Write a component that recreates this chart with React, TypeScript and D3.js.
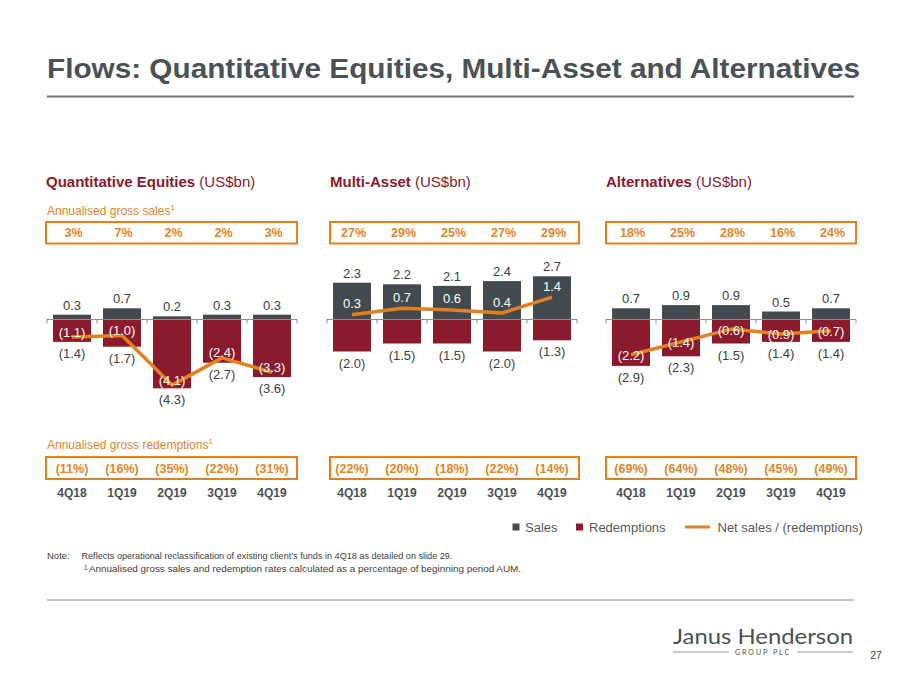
import React from "react";
import * as d3 from "d3";

const quarters = ["4Q18", "1Q19", "2Q19", "3Q19", "4Q19"];

const qeSales = [0.3, 0.7, 0.2, 0.3, 0.3];
const qeRedemptions = [-1.4, -1.7, -4.3, -2.7, -3.6];
const qeNet = [-1.1, -1.0, -4.1, -2.4, -3.3];
const qeSalesRate = ["3%", "7%", "2%", "2%", "3%"];
const qeRedRate = ["(11%)", "(16%)", "(35%)", "(22%)", "(31%)"];

const maSales = [2.3, 2.2, 2.1, 2.4, 2.7];
const maRedemptions = [-2.0, -1.5, -1.5, -2.0, -1.3];
const maNet = [0.3, 0.7, 0.6, 0.4, 1.4];
const maSalesRate = ["27%", "29%", "25%", "27%", "29%"];
const maRedRate = ["(22%)", "(20%)", "(18%)", "(22%)", "(14%)"];

const altSales = [0.7, 0.9, 0.9, 0.5, 0.7];
const altRedemptions = [-2.9, -2.3, -1.5, -1.4, -1.4];
const altNet = [-2.2, -1.4, -0.6, -0.9, -0.7];
const altSalesRate = ["18%", "25%", "28%", "16%", "24%"];
const altRedRate = ["(69%)", "(64%)", "(48%)", "(45%)", "(49%)"];

const C_DARK = "#434b51";
const C_RED = "#8a1a2c";
const C_ORANGE = "#e5801e";
const C_ORANGE_TXT = "#e4852a";
const C_TITLE = "#4a5258";
const C_LABEL = "#404040";
const FONT = "'Liberation Sans', Arial, sans-serif";

const fmt = (v: number) => (v < 0 ? `(${Math.abs(v).toFixed(1)})` : v.toFixed(1));

const panels = [
  {
    title: "Quantitative Equities",
    sales: qeSales,
    red: qeRedemptions,
    net: qeNet,
    salesRate: qeSalesRate,
    redRate: qeRedRate,
    axis: [47, 297],
    box: [46, 297],
    netOffset: -5,
  },
  {
    title: "Multi-Asset",
    sales: maSales,
    red: maRedemptions,
    net: maNet,
    salesRate: maSalesRate,
    redRate: maRedRate,
    axis: [327, 577],
    box: [330, 579],
    netOffset: -11,
  },
  {
    title: "Alternatives",
    sales: altSales,
    red: altRedemptions,
    net: altNet,
    salesRate: altSalesRate,
    redRate: altRedRate,
    axis: [606, 856],
    box: [606, 856],
    netOffset: 1,
  },
];

const y = d3.scaleLinear().domain([0, 1]).range([319.5, 303.5]);

function Panel({ p }: { p: (typeof panels)[number] }) {
  const x = d3
    .scaleBand<string>()
    .domain(quarters)
    .range(p.axis as [number, number])
    .paddingInner(0.24)
    .paddingOuter(0.12);
  const bw = x.bandwidth();
  const cx = (q: string) => (x(q) as number) + bw / 2;
  const line = d3
    .line<number>()
    .x((_, i) => cx(quarters[i]))
    .y((d) => y(d));
  const step = x.step();
  const ticks = d3.range(quarters.length + 1).map((i) => p.axis[0] + i * step);
  return (
    <g>
      <text x={p.box[0]} y={186.5} fontFamily={FONT} fontSize={15} fill={C_RED}>
        <tspan fontWeight="bold">{p.title}</tspan>
        <tspan> (US$bn)</tspan>
      </text>
      <rect x={p.box[0]} y={222} width={p.box[1] - p.box[0]} height={21.5} fill="none" stroke={C_ORANGE} strokeWidth={2} />
      {p.salesRate.map((t, i) => (
        <text key={"sr" + i} x={cx(quarters[i]) + 1.5} y={237} textAnchor="middle" fontFamily={FONT} fontSize={12.5} fontWeight="bold" fill={C_ORANGE_TXT}>
          {t}
        </text>
      ))}
      <rect x={p.box[0]} y={457} width={p.box[1] - p.box[0]} height={22} fill="none" stroke={C_ORANGE} strokeWidth={2} />
      {p.redRate.map((t, i) => (
        <text key={"rr" + i} x={cx(quarters[i])} y={472.5} textAnchor="middle" fontFamily={FONT} fontSize={12.5} fontWeight="bold" fill={C_ORANGE_TXT}>
          {t}
        </text>
      ))}
      {quarters.map((q) => (
        <text key={"q" + q} x={cx(q)} y={497} textAnchor="middle" fontFamily={FONT} fontSize={12} fontWeight="bold" fill={C_TITLE}>
          {q}
        </text>
      ))}
      {quarters.map((q, i) => (
        <g key={"b" + q}>
          <rect x={x(q)} y={y(p.sales[i])} width={bw} height={y(0) - y(p.sales[i])} fill={C_DARK} />
          <rect x={x(q)} y={y(0)} width={bw} height={y(p.red[i]) - y(0)} fill={C_RED} />
        </g>
      ))}
      <line x1={p.axis[0]} x2={p.axis[1]} y1={y(0)} y2={y(0)} stroke="#8c8c8c" strokeWidth={1} />
      {ticks.map((t, i) => (
        <line key={"t" + i} x1={t} x2={t} y1={y(0)} y2={y(0) + 4} stroke="#8c8c8c" strokeWidth={1} />
      ))}
      <path d={line(p.net) as string} fill="none" stroke={C_ORANGE} strokeWidth={3.5} strokeLinejoin="round" />
      {quarters.map((q, i) => (
        <g key={"l" + q} fontFamily={FONT} fontSize={13} textAnchor="middle">
          <text x={cx(q)} y={y(p.sales[i]) - 5} fill={C_LABEL}>
            {fmt(p.sales[i])}
          </text>
          <text x={cx(q)} y={y(p.red[i]) + 16} fill={C_LABEL}>
            {fmt(p.red[i])}
          </text>
          <text x={cx(q)} y={y(p.net[i]) + p.netOffset + 4.5} fill="#ffffff">
            {fmt(p.net[i])}
          </text>
        </g>
      ))}
    </g>
  );
}

export default function App() {
  return (
    <svg
      width={900}
      height={675}
      viewBox="0 0 900 675"
      style={{ position: "absolute", left: 0, top: 0, background: "#ffffff" }}
    >
      <rect width={900} height={675} fill="#ffffff" />
      <text x={47} y={77.5} fontFamily={FONT} fontSize={28} fontWeight="bold" fill={C_TITLE} textLength={813} lengthAdjust="spacingAndGlyphs">
        Flows: Quantitative Equities, Multi-Asset and Alternatives
      </text>
      <line x1={47} x2={854} y1={96.5} y2={96.5} stroke="#6d7378" strokeWidth={2} />

      <text x={47} y={215} fontFamily={FONT} fontSize={12} fill={C_ORANGE_TXT}>
        Annualised gross sales<tspan fontSize={8} dy={-5}>1</tspan>
      </text>
      <text x={47} y={449} fontFamily={FONT} fontSize={12} fill={C_ORANGE_TXT}>
        Annualised gross redemptions<tspan fontSize={8} dy={-5}>1</tspan>
      </text>

      {panels.map((p) => (
        <Panel key={p.title} p={p} />
      ))}

      <g fontFamily={FONT} fontSize={13} fill="#595959">
        <rect x={512.5} y={523.5} width={7} height={7} fill={C_DARK} />
        <text x={525} y={531.5}>Sales</text>
        <rect x={576} y={523.5} width={7} height={7} fill={C_RED} />
        <text x={589} y={531.5}>Redemptions</text>
        <line x1={685} x2={710} y1={527} y2={527} stroke={C_ORANGE} strokeWidth={3} />
        <text x={717.5} y={531.5}>Net sales / (redemptions)</text>
      </g>

      <g fontFamily={FONT} fill="#404040">
        <text x={47} y={559} fontSize={9.5}>Note:</text>
        <text x={81.5} y={559} fontSize={9.1}>Reflects operational reclassification of existing client’s funds in 4Q18 as detailed on slide 29.</text>
        <text x={84} y={570} fontSize={6.5}>1</text>
        <text x={89} y={572} fontSize={9.9}>Annualised gross sales and redemption rates calculated as a percentage of beginning period AUM.</text>
      </g>

      <line x1={47} x2={854} y1={600} y2={600} stroke="#8c8c8c" strokeWidth={1} />

      <text x={673} y={644} fontFamily="Lato, 'Open Sans', sans-serif" fontSize={22} fill={C_TITLE} textLength={180} lengthAdjust="spacingAndGlyphs">
        Janus Henderson
      </text>
      <line x1={673} x2={729} y1={652} y2={652} stroke="#7a8085" strokeWidth={0.8} />
      <line x1={797} x2={853} y1={652} y2={652} stroke="#7a8085" strokeWidth={0.8} />
      <text x={763} y={655} textAnchor="middle" fontFamily="Lato, 'Open Sans', sans-serif" fontSize={7} letterSpacing={2} fill={C_TITLE}>
        GROUP PLC
      </text>
      <text x={876} y={659} textAnchor="middle" fontFamily={FONT} fontSize={10.5} fill="#404040">
        27
      </text>
    </svg>
  );
}
